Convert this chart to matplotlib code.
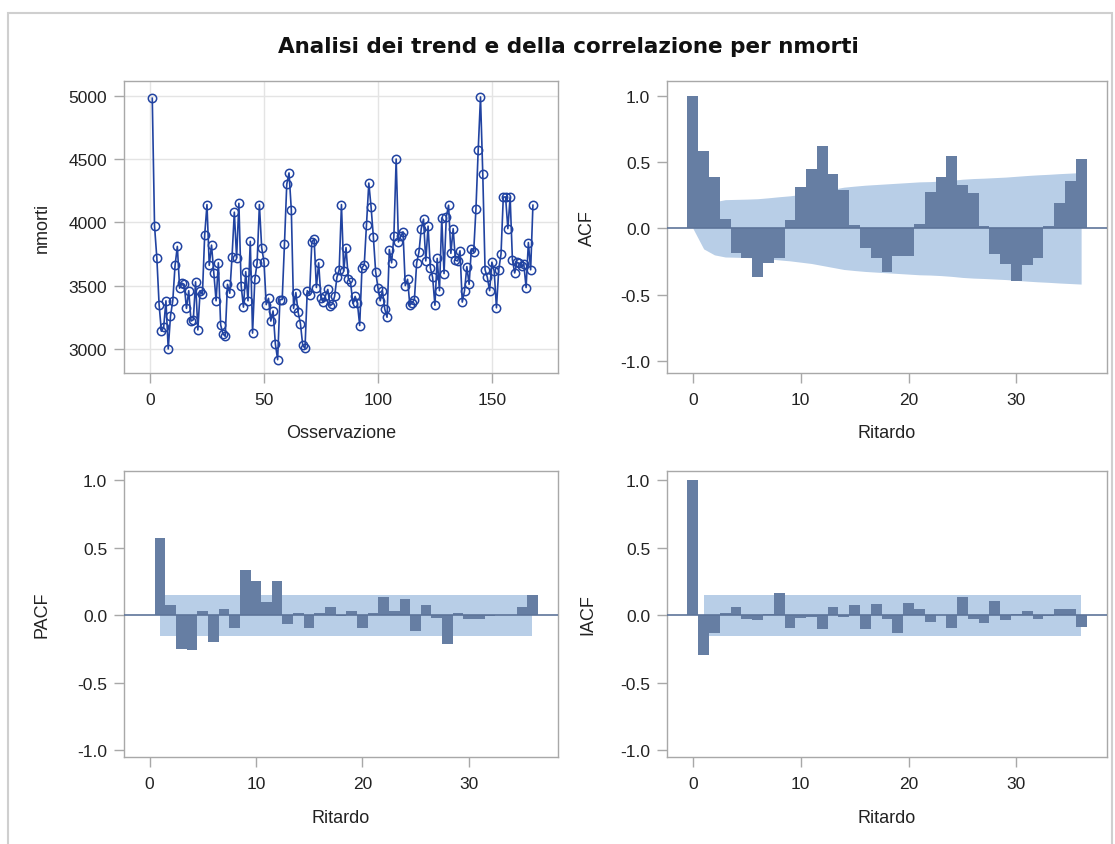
import matplotlib
matplotlib.use("Agg")
import matplotlib.pyplot as plt
from matplotlib.patches import Rectangle

# monthly series of nmorti (168 observations)
nmorti = [
    4980, 3970, 3720, 3350, 3140, 3170, 3380, 3000, 3260, 3380,
    3660, 3810, 3480, 3520, 3510, 3320, 3460, 3220, 3230, 3530,
    3150, 3460, 3430, 3900, 4140, 3660, 3820, 3600, 3380, 3680,
    3190, 3120, 3100, 3510, 3440, 3730, 4080, 3720, 4150,
    3500, 3330, 3610, 3380, 3850, 3125, 3550, 3680, 4140, 3800,
    3690, 3350, 3400, 3220, 3300, 3040, 2915, 3390, 3390, 3830,
    4300, 4390, 4100, 3320, 3445, 3290, 3200, 3030, 3005, 3460,
    3425, 3845, 3870, 3485, 3680, 3400, 3370, 3420, 3470, 3340,
    3355, 3415,
    3565, 3625, 4140, 3615, 3800, 3555, 3525, 3360, 3415, 3360,
    3185, 3640, 3665, 3980, 4310, 4120, 3885, 3610, 3485, 3380,
    3460, 3315, 3250, 3785, 3680, 3890, 4500, 3845, 3890, 3925,
    3500, 3550, 3345, 3365, 3390, 3680, 3765, 3950, 4025, 3695,
    3970, 3640, 3565, 3345,
    3715, 3460, 4035, 3595, 4045, 4135, 3755, 3950, 3700, 3695,
    3775, 3370, 3460, 3650, 3510, 3790, 3765, 4105, 4575, 4990,
    4380, 3625, 3565, 3460, 3685, 3615, 3325, 3625, 3750, 4200,
    4200, 3950, 4200, 3705, 3600, 3685, 3675, 3655, 3670, 3485,
    3840, 3625, 4135,
]

lags = list(range(37))

acf = [1.0, 0.579, 0.383, 0.073, -0.184, -0.227, -0.368, -0.259, -0.227, 0.063,
       0.315, 0.446, 0.617, 0.408, 0.287, 0.025, -0.151, -0.222, -0.330, -0.209,
       -0.209, 0.030, 0.275, 0.390, 0.542, 0.327, 0.264, 0.020, -0.196, -0.267,
       -0.398, -0.280, -0.222, 0.018, 0.194, 0.353, 0.521]

# two standard error limits of the ACF
acf_band = [0.0, 0.155, 0.200, 0.216, 0.218, 0.220, 0.223, 0.230, 0.238, 0.245,
            0.255, 0.265, 0.280, 0.295, 0.310, 0.318, 0.325, 0.330, 0.335, 0.340,
            0.345, 0.350, 0.352, 0.356, 0.362, 0.370, 0.375, 0.378, 0.382, 0.386,
            0.392, 0.398, 0.403, 0.407, 0.412, 0.416, 0.420]

pacf = [0.575, 0.074, -0.247, -0.259, 0.032, -0.195, 0.049, -0.091, 0.333, 0.254,
        0.101, 0.254, -0.067, 0.015, -0.096, 0.020, 0.064, -0.005, 0.032, -0.091,
        0.020, 0.138, 0.032, 0.123, -0.116, 0.074, -0.017, -0.210, 0.020, -0.030,
        -0.030, -0.005, 0.002, 0.003, 0.064, 0.148]

iacf = [1.0, -0.296, -0.128, 0.020, 0.062, -0.025, -0.037, 0.012, 0.163, -0.091,
        -0.020, -0.010, -0.103, 0.062, -0.015, 0.074, -0.103, 0.086, -0.025, -0.128,
        0.094, 0.044, -0.049, 0.000, -0.091, 0.135, -0.025, -0.059, 0.106, -0.035,
        0.012, 0.032, -0.025, -0.005, 0.049, 0.044, -0.084]

# two standard error limit for PACF / IACF
white_noise_se2 = 0.154

BAR_COLOR = '#667EA3'
BAND_COLOR = '#B8CEE7'
LINE_COLOR = '#2143A1'
FRAME_COLOR = '#A8A8A8'
TEXT_COLOR = '#222222'
W, H = 1115, 845

plt.rcParams['font.family'] = ['Liberation Sans', 'DejaVu Sans']
plt.rcParams['axes.unicode_minus'] = False


def px_axes(fig, x0, y0, x1, y1):
    return fig.add_axes([x0 / W, 1 - y1 / H, (x1 - x0) / W, (y1 - y0) / H])


def style_axes(ax):
    for s in ax.spines.values():
        s.set_color(FRAME_COLOR)
        s.set_linewidth(1.0)
    ax.tick_params(direction='out', length=7, width=1, color=FRAME_COLOR,
                   labelsize=12.5, labelcolor=TEXT_COLOR, pad=5)
    ax.tick_params(axis='x', pad=7)


def place_labels(ax, xlab, ylab, xpos, ypos):
    ax.set_xlabel(xlab, fontsize=13, color=TEXT_COLOR, va='center')
    ax.set_ylabel(ylab, fontsize=13, color=TEXT_COLOR, va='center')
    ax.xaxis.set_label_coords(0.5, xpos)
    ax.yaxis.set_label_coords(ypos, 0.5)


def corr_axes(ax, ylabel, ylim, xpos, ypos):
    style_axes(ax)
    ax.set_xlim(-2.4, 38.4)
    ax.set_ylim(*ylim)
    ax.set_xticks([0, 10, 20, 30])
    ax.set_yticks([-1.0, -0.5, 0.0, 0.5, 1.0])
    ax.set_yticklabels(['%.1f' % v for v in [-1.0, -0.5, 0.0, 0.5, 1.0]])
    ax.axhline(0, color='#5D7499', lw=1.2, zorder=3)
    place_labels(ax, 'Ritardo', ylabel, xpos, ypos)


fig = plt.figure(figsize=(W / 100, H / 100), dpi=100)
fig.add_artist(Rectangle((8 / W, -0.01), 1104 / W, 1.01 - 14 / H,
                         transform=fig.transFigure, fill=False,
                         ec='#CFCFCF', lw=1.5))
fig.text(568 / W, 1 - 47 / H, 'Analisi dei trend e della correlazione per nmorti',
         ha='center', va='center', fontsize=15.5, fontweight='bold',
         family='DejaVu Sans', color='#111111')

# series plot
ax1 = px_axes(fig, 124, 82, 558, 374)
style_axes(ax1)
obs = list(range(1, len(nmorti) + 1))
ax1.grid(True, color='#E4E4E4', lw=1)
ax1.set_axisbelow(True)
ax1.plot(obs, nmorti, color=LINE_COLOR, lw=1.2, marker='o', ms=6,
         mfc='none', mec=LINE_COLOR, mew=1.1)
ax1.set_xlim(-11.4, 179)
ax1.set_ylim(2810, 5116)
ax1.set_xticks([0, 50, 100, 150])
ax1.set_yticks([3000, 3500, 4000, 4500, 5000])
place_labels(ax1, 'Osservazione', 'nmorti', -0.205, -0.189)

# autocorrelations
ax2 = px_axes(fig, 667, 82, 1107, 374)
ax2.fill_between(lags, [-b for b in acf_band], acf_band, color=BAND_COLOR, lw=0, zorder=1)
ax2.bar(lags, acf, width=1.0, color=BAR_COLOR, lw=0, zorder=2)
corr_axes(ax2, 'ACF', (-1.09, 1.11), -0.205, -0.18)

# partial autocorrelations
ax3 = px_axes(fig, 124, 472, 558, 758)
ax3.fill_between([1, 36], -white_noise_se2, white_noise_se2, color=BAND_COLOR, lw=0, zorder=1)
ax3.bar(lags[1:], pacf, width=1.0, color=BAR_COLOR, lw=0, zorder=2)
corr_axes(ax3, 'PACF', (-1.05, 1.07), -0.21, -0.189)

# inverse autocorrelations
ax4 = px_axes(fig, 667, 472, 1107, 758)
ax4.fill_between([1, 36], -white_noise_se2, white_noise_se2, color=BAND_COLOR, lw=0, zorder=1)
ax4.bar(lags, iacf, width=1.0, color=BAR_COLOR, lw=0, zorder=2)
corr_axes(ax4, 'IACF', (-1.05, 1.07), -0.21, -0.18)

fig.savefig('out.png', dpi=100)
